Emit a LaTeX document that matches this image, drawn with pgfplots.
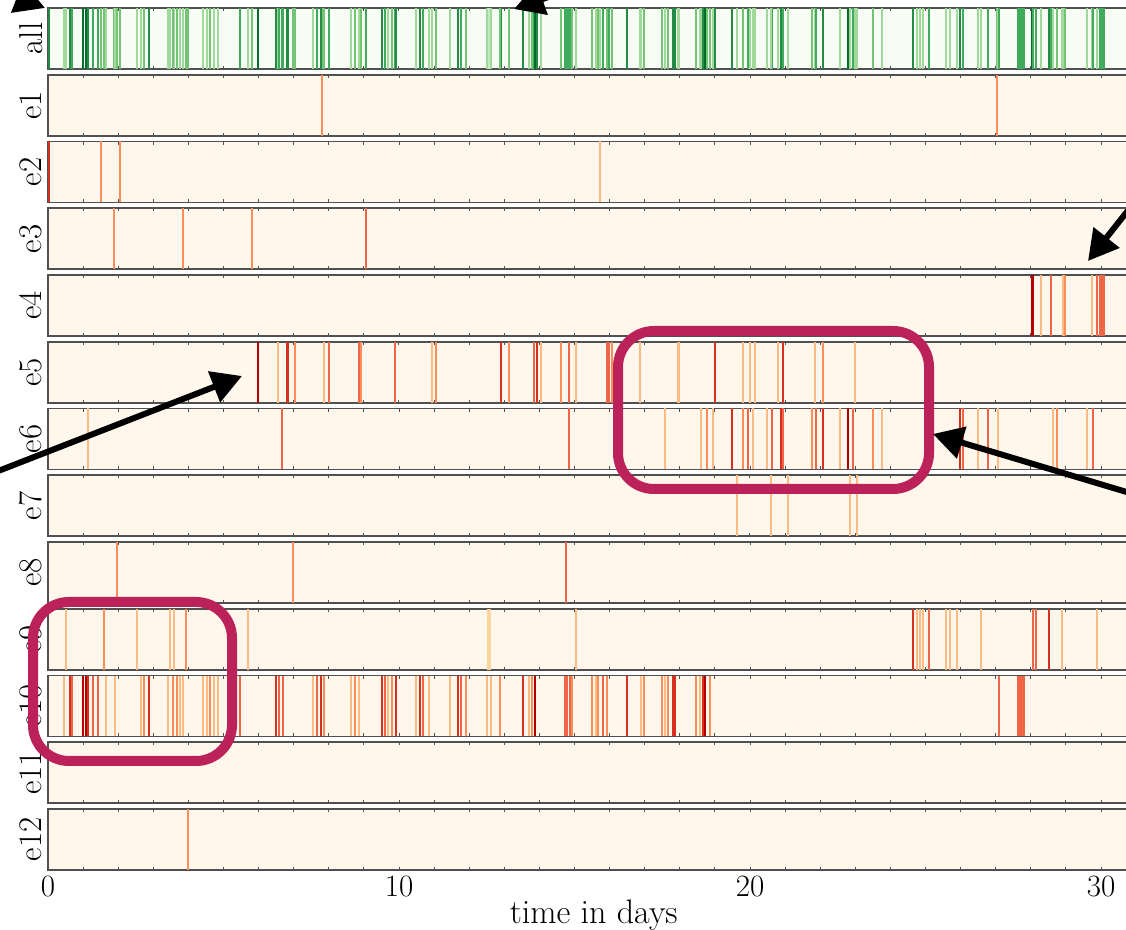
\documentclass[border=0pt]{standalone}
\usepackage{fontspec}
\usepackage{pgfplots}
\pgfplotsset{compat=1.18}
\usepackage{pgfplotstable}
\usetikzlibrary{arrows.meta}

\definecolor{orbg}{RGB}{255,246,236}
\definecolor{grbg}{RGB}{247,252,245}
\definecolor{annot}{RGB}{187,34,90}
\definecolor{frame}{RGB}{80,80,80}

% event tables: x = time in days, c = intensity level (1..6)
\pgfplotstableread{
x c
7.81 3
27.04 3
}\eA
\pgfplotstableread{
x c
0.03 5
1.50 3
2.05 3
15.73 2
}\eB
\pgfplotstableread{
x c
1.89 3
3.85 3
5.81 3
9.05 4
}\eC
\pgfplotstableread{
x c
28.02 6
28.07 6
28.28 2
28.57 4
28.92 2
28.97 3
29.74 2
29.90 4
29.96 4
30.02 4
30.08 4
}\eD
\pgfplotstableread{
x c
5.97 6
6.56 2
6.80 5
6.84 5
7.04 3
7.86 2
8.01 4
8.87 4
8.93 3
9.89 4
10.95 2
11.04 3
12.91 5
13.14 3
13.85 4
13.92 5
14.05 2
14.62 3
14.84 4
15.03 2
15.94 4
15.99 4
16.08 3
16.87 2
17.94 2
17.99 2
19.00 5
19.81 2
20.00 2
20.14 2
20.81 2
20.95 5
21.85 2
22.09 3
23.00 2
}\eE
\pgfplotstableread{
x c
1.13 2
6.66 4
14.83 4
17.58 2
18.60 2
18.78 3
18.95 2
19.48 5
19.81 3
19.95 4
20.09 2
20.49 2
20.64 4
20.88 5
20.95 4
21.76 3
21.88 4
22.07 5
22.56 2
22.80 6
22.94 4
23.51 3
23.75 2
25.98 5
26.06 4
26.50 2
26.77 4
27.07 2
28.64 2
28.74 3
29.59 2
29.78 4
}\eF
\pgfplotstableread{
x c
19.63 2
20.60 2
21.08 2
22.85 2
23.05 2
}\eG
\pgfplotstableread{
x c
1.97 3
6.98 3
14.76 4
}\eH
\pgfplotstableread{
x c
0.50 2
1.60 3
2.54 2
3.48 2
3.59 2
3.93 3
5.71 2
12.54 1
12.58 1
15.04 2
24.63 5
24.75 2
24.84 2
24.94 2
25.10 4
25.58 2
25.70 2
25.91 2
26.57 2
28.07 4
28.14 4
28.53 5
28.88 2
29.88 2
}\eI
\pgfplotstableread{
x c
0.46 2
0.63 5
0.67 4
1.01 6
1.08 6
1.13 5
1.29 4
1.43 4
1.65 2
1.91 2
2.64 2
2.74 3
2.88 5
3.43 2
3.57 3
3.67 3
3.76 2
3.84 2
4.42 2
4.52 2
4.62 3
4.74 2
4.85 2
5.47 4
6.50 5
6.59 4
6.69 4
7.56 2
7.67 4
7.77 5
7.86 3
8.62 2
8.75 3
8.87 2
9.51 5
9.60 4
9.70 2
9.79 3
9.91 5
10.48 2
10.60 5
10.67 4
10.86 2
11.45 2
11.69 5
11.76 4
11.91 3
12.52 2
12.61 2
12.88 3
13.54 5
13.71 2
13.78 3
13.87 6
14.73 4
14.80 4
14.86 4
14.92 3
15.51 3
15.60 2
15.68 3
15.82 4
15.93 3
16.49 5
16.89 2
16.98 3
17.48 3
17.58 2
17.67 3
17.80 5
17.86 5
18.46 3
18.58 2
18.67 5
18.72 6
18.86 3
27.10 4
27.64 4
27.70 4
27.76 4
27.82 4
}\eJ
\pgfplotstableread{
x c
3.99 3
}\eL

\pgfplotsset{
  strip/.style={
    scale only axis, width=545.8pt, height=30.5pt,
    xmin=0, xmax=31.1, ymin=0, ymax=1,
    ytick=\empty, xtick={0,10,20,30}, minor x tick num=9,
    xticklabels={}, xtick pos=both, tick align=inside,
    major tick length=1.6pt, minor tick length=1.6pt,
    every tick/.style={frame, line width=0.5pt},
    axis line style={frame, line width=0.8pt},
    axis background/.style={fill=orbg},
    colormap={orrd}{rgb255=(253,212,158) rgb255=(253,187,132) rgb255=(252,141,89) rgb255=(239,101,72) rgb255=(215,48,31) rgb255=(179,0,0)},
    point meta min=1, point meta max=6,
    anchor=north west,
    ylabel style={at={([xshift=-8.5pt]axis description cs:0,0.5)}, anchor=center, inner sep=0pt, font=\fontsize{16.5}{19}\selectfont},
    /pgf/number format/assume math mode=true,
  },
  ev/.style={quiver={u=0, v=1, colored=mapped color}, -, line width=1pt, point meta=explicit},
}

\newcommand{\ev}[1]{\addplot[ev] table[x=x, y expr=0, meta=c] {#1};}

\begin{document}
\begin{tikzpicture}
% all
\begin{axis}[strip, at={(24pt,-4pt)}, ylabel={all},
  axis background/.style={fill=grbg},
  colormap={gr}{rgb255=(199,233,192) rgb255=(161,217,155) rgb255=(116,196,118) rgb255=(65,171,93) rgb255=(35,139,69) rgb255=(0,109,44)}]
\ev{\eA}\ev{\eB}\ev{\eC}\ev{\eD}\ev{\eE}\ev{\eF}\ev{\eG}\ev{\eH}\ev{\eI}\ev{\eJ}\ev{\eL}
\end{axis}
\begin{axis}[strip, at={(24pt,-37.375pt)}, ylabel={e1}]
\ev{\eA}
\end{axis}
\begin{axis}[strip, at={(24pt,-70.75pt)}, ylabel={e2}]
\ev{\eB}
\end{axis}
\begin{axis}[strip, at={(24pt,-104.125pt)}, ylabel={e3}]
\ev{\eC}
\end{axis}
\begin{axis}[strip, at={(24pt,-137.5pt)}, ylabel={e4}]
\ev{\eD}
\end{axis}
\begin{axis}[strip, at={(24pt,-170.875pt)}, ylabel={e5}]
\ev{\eE}
\end{axis}
\begin{axis}[strip, at={(24pt,-204.25pt)}, ylabel={e6}]
\ev{\eF}
\end{axis}
\begin{axis}[strip, at={(24pt,-237.625pt)}, ylabel={e7}]
\ev{\eG}
\end{axis}
\begin{axis}[strip, at={(24pt,-271pt)}, ylabel={e8}]
\ev{\eH}
\end{axis}
\begin{axis}[strip, at={(24pt,-304.375pt)}, ylabel={e9}]
\ev{\eI}
\end{axis}
\begin{axis}[strip, at={(24pt,-337.75pt)}, ylabel={e10}]
\ev{\eJ}
\end{axis}
\begin{axis}[strip, at={(24pt,-371.125pt)}, ylabel={e11}]
\end{axis}
\begin{axis}[strip, at={(24pt,-404.5pt)}, ylabel={e12},
  xticklabels={0,10,20,30},
  xticklabel style={inner sep=0pt, yshift=-2.8pt, font=\fontsize{15.5}{18}\selectfont},
  xlabel={time in days},
  xlabel style={at={(axis description cs:0.5,0)}, anchor=north, inner sep=0pt, yshift=-15pt, font=\fontsize{17}{20}\selectfont}]
\ev{\eL}
\end{axis}

% annotations (pixel coordinates, origin top-left)
\begin{scope}[x=0.5pt, y=-0.5pt]
  \draw[annot, line width=5pt, rounded corners=18pt] (618,331) rectangle (929,489);
  \draw[annot, line width=5pt, rounded corners=18pt] (33,602) rectangle (232,761);
  \begin{scope}[line width=3pt, -{Triangle[length=15pt, width=16pt]}]
    \draw (-40,-25) -- (45,8);
    \draw (640,-35) -- (514,9);
    \draw (1160,170) -- (1088,261);
    \draw (-30,482) -- (242,376);
    \draw (1170,505) -- (933,434);
  \end{scope}
\end{scope}

\pgfresetboundingbox
\path[use as bounding box] (0,0) rectangle (563pt,-465pt);
\end{tikzpicture}
\end{document}
